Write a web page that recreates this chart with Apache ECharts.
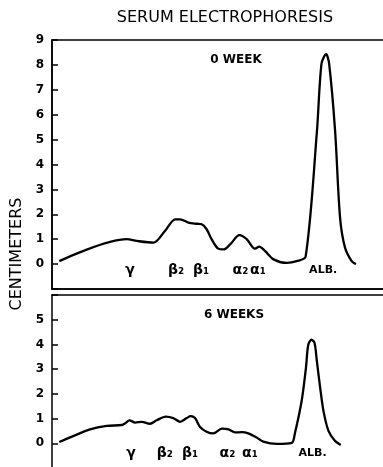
<!DOCTYPE html>
<html>
<head>
<meta charset="utf-8">
<script src="https://cdn.jsdelivr.net/npm/echarts@6/dist/echarts.min.js"></script>
<style>
html,body{margin:0;padding:0;background:#fff;}
#chart{width:383px;height:467px;}
</style>
</head>
<body>
<div id="chart"></div>
<script>
// Migration distance (relative units; 0-100 spans the visible strip) and densitometer height (cm)
var week0X = [2.2, 22.6, 25.6, 30.6, 34.1, 37.2, 38.7, 41.2, 43.7, 45.2, 46.7, 48.2, 50.2, 51.8, 53.8, 56.6, 58.8, 61.3, 62.6, 64.4, 66.9, 70.9, 73.9, 76.6, 80.0, 81.4, 82.8, 83.7, 85.5, 87.0, 88.5, 90.5, 91.8];
var week0Y = [0.12, 1.0, 0.93, 0.86, 1.33, 1.80, 1.80, 1.67, 1.62, 1.6, 1.4, 1.0, 0.62, 0.59, 0.79, 1.16, 1.0, 0.62, 0.70, 0.52, 0.19, 0.05, 0.12, 0.30, 5.3, 8.05, 8.43, 8.05, 5.36, 1.87, 0.66, 0.12, 0.0];

var week6X = [2.2, 6.4, 11.5, 16.5, 21.1, 22.1, 23.4, 25.1, 27.1, 29.6, 31.6, 34.4, 36.6, 38.7, 40.7, 41.9, 43.2, 44.7, 46.7, 48.7, 51.3, 53.3, 55.3, 57.3, 59.3, 61.8, 63.8, 67.9, 72.4, 73.4, 75.4, 76.7, 77.4, 78.4, 79.3, 80.0, 81.0, 82.0, 83.5, 85.5, 87.2];
var week6Y = [0.05, 0.29, 0.56, 0.70, 0.74, 0.81, 0.93, 0.84, 0.87, 0.79, 0.93, 1.08, 1.02, 0.87, 1.02, 1.10, 1.02, 0.66, 0.47, 0.40, 0.59, 0.56, 0.44, 0.45, 0.40, 0.23, 0.07, -0.02, 0.02, 0.43, 1.71, 3.05, 3.99, 4.19, 4.06, 3.32, 2.24, 1.30, 0.50, 0.09, -0.07];

var fractionNames = ['γ', 'β₂', 'β₁', 'α₂', 'α₁', 'ALB.'];
var week0LabelX = [23.6, 37.5, 45.0, 56.9, 62.2, 81.9];
var week0LabelY = -0.24;
var week6LabelX = [23.9, 34.1, 41.7, 53.0, 59.8, 78.7];
var week6LabelY = -0.4;

var chartTitle = 'SERUM ELECTROPHORESIS';
var panelTitles = ['0 WEEK', '6 WEEKS'];
var yAxisName = 'CENTIMETERS';

function pairs(xs, ys) { return xs.map(function (x, i) { return [x, ys[i]]; }); }
function labelData(xs, y) {
  return xs.map(function (x, i) {
    var name = fractionNames[i];
    var item = { value: [x, y], name: name };
    if (name === 'ALB.') item.label = { fontSize: 11 };
    return item;
  });
}

var chart = echarts.init(document.getElementById('chart'), null, { renderer: 'canvas' });
var font = 'DejaVu Sans';

function yAxisFor(gridIndex, max) {
  return {
    type: 'value', gridIndex: gridIndex, min: -1, max: max, interval: 1,
    axisLine: { show: true, lineStyle: { color: '#000', width: 1.5 } },
    axisTick: { show: true, inside: true, length: 6, lineStyle: { color: '#000', width: 1.5 } },
    splitLine: { show: false },
    axisLabel: {
      color: '#000', fontFamily: font, fontWeight: 'bold', fontSize: 12, margin: 8,
      formatter: function (v) { return (v < 0 || (gridIndex === 1 && v > 5)) ? '' : String(v); }
    }
  };
}
function xAxisFor(gridIndex, pos) {
  return {
    type: 'value', gridIndex: gridIndex, min: 0, max: 104.2, position: pos,
    axisLine: { show: true, onZero: false, lineStyle: { color: '#000', width: 1.5 } },
    axisTick: { show: false }, axisLabel: { show: false }, splitLine: { show: false }
  };
}
function curve(idx, data) {
  return {
    type: 'line', xAxisIndex: idx, yAxisIndex: idx, data: data,
    symbol: 'none', smooth: 0.3, silent: true,
    lineStyle: { color: '#000', width: 2.3 }
  };
}
function labels(idx, data) {
  return {
    type: 'scatter', xAxisIndex: idx, yAxisIndex: idx, data: data,
    symbolSize: 0, silent: true,
    itemStyle: { opacity: 1, color: '#000' },
    label: {
      show: true, position: 'inside', formatter: '{b}', color: '#000', opacity: 1,
      fontFamily: font, fontSize: 14, fontWeight: 'bold', align: 'center', verticalAlign: 'middle'
    }
  };
}

chart.setOption({
  animation: false,
  backgroundColor: '#fff',
  title: [
    { text: chartTitle, left: 220, top: 5, textAlign: 'center', textStyle: { color: '#000', fontFamily: font, fontSize: 16, fontWeight: 'normal' } },
    { text: panelTitles[0], left: 231, top: 49, textAlign: 'center', textStyle: { color: '#000', fontFamily: font, fontSize: 12, fontWeight: 'bold' } },
    { text: panelTitles[1], left: 229, top: 304, textAlign: 'center', textStyle: { color: '#000', fontFamily: font, fontSize: 12, fontWeight: 'bold' } }
  ],
  grid: [
    { left: 52, top: 40, width: 345, height: 249, show: true, borderColor: '#000', borderWidth: 1.5, backgroundColor: 'transparent', outerBoundsMode: 'none', containLabel: false },
    { left: 52, top: 295, width: 345, height: 173, show: false, outerBoundsMode: 'none', containLabel: false }
  ],
  xAxis: [xAxisFor(0, 'bottom'), xAxisFor(1, 'top')],
  yAxis: [yAxisFor(0, 9), yAxisFor(1, 6)],
  graphic: [{
    type: 'text', x: 17, y: 254, rotation: Math.PI / 2,
    style: { text: yAxisName, fill: '#000', font: '16px "DejaVu Sans"', align: 'center', verticalAlign: 'middle' }
  }],
  series: [
    curve(0, pairs(week0X, week0Y)),
    curve(1, pairs(week6X, week6Y)),
    labels(0, labelData(week0LabelX, week0LabelY)),
    labels(1, labelData(week6LabelX, week6LabelY))
  ]
});
</script>
</body>
</html>
